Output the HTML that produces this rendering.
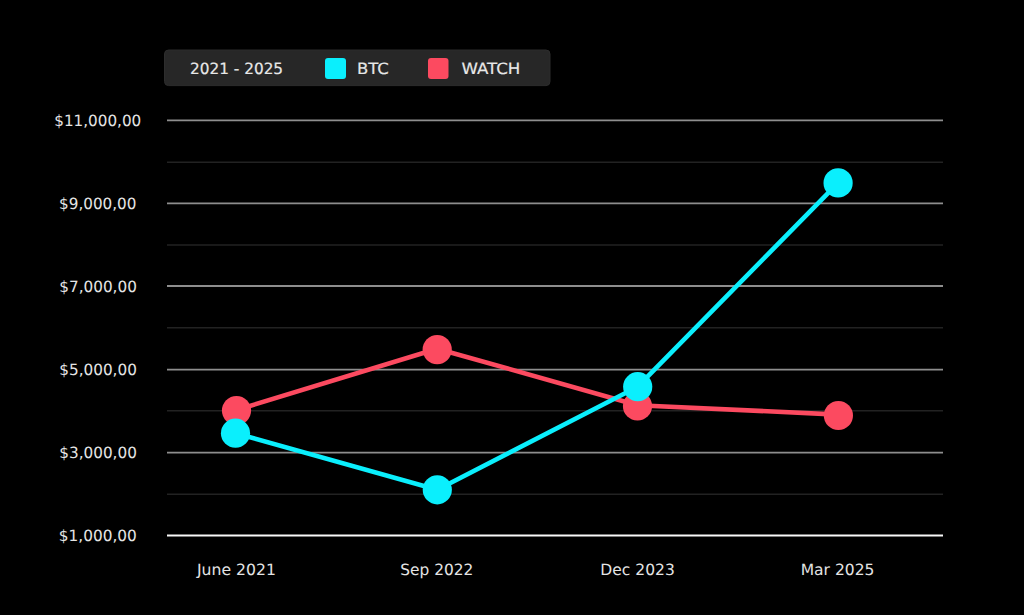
<!DOCTYPE html>
<html>
<head>
<meta charset="utf-8">
<style>
html,body{margin:0;padding:0;background:#000;}
body{width:1024px;height:615px;overflow:hidden;position:relative;}
svg{position:absolute;left:0;top:0;display:block;}
text{text-rendering:geometricPrecision;font-family:"DejaVu Sans",sans-serif;font-size:15.5px;fill:#e8e8e8;stroke:#e8e8e8;stroke-width:0.18px;}
text.ax{font-size:15.5px;stroke-width:0;stroke:none;fill:#e4e4e4;}
</style>
</head>
<body>
<svg width="1024" height="615" viewBox="0 0 1024 615">
  <!-- legend -->
  <rect x="164.5" y="50" width="385.5" height="35.6" rx="4" ry="4" fill="#272727" stroke="#2d2d2d" stroke-width="1"/>
  <text x="190.01" y="74.0" textLength="93.11" lengthAdjust="spacingAndGlyphs">2021 - 2025</text>
  <rect x="325" y="58" width="21" height="21" rx="3" fill="#0aeffd"/>
  <text x="356.94" y="74.0" textLength="31.9" lengthAdjust="spacingAndGlyphs">BTC</text>
  <rect x="428" y="58" width="20.5" height="21" rx="3" fill="#fc4a60"/>
  <text x="461.4" y="74.0" textLength="58.99" lengthAdjust="spacingAndGlyphs">WATCH</text>

  <!-- grid -->
  <g stroke-width="1.8" stroke="#8e8e8e">
    <line x1="167" y1="120.45" x2="943" y2="120.45"/>
    <line x1="167" y1="203.3" x2="943" y2="203.3"/>
    <line x1="167" y1="286.0" x2="943" y2="286.0"/>
    <line x1="167" y1="369.7" x2="943" y2="369.7"/>
    <line x1="167" y1="452.7" x2="943" y2="452.7"/>
  </g>
  <g stroke-width="1.6" stroke="#222222">
    <line x1="167" y1="162.3" x2="943" y2="162.3"/>
    <line x1="167" y1="245.05" x2="943" y2="245.05"/>
    <line x1="167" y1="327.8" x2="943" y2="327.8"/>
    <line x1="167" y1="410.8" x2="943" y2="410.8"/>
    <line x1="167" y1="494.3" x2="943" y2="494.3"/>
  </g>
  <line x1="167" y1="535.45" x2="943" y2="535.45" stroke="#f8f8f8" stroke-width="2"/>

  <!-- y labels -->
  <text class="ax" x="54.22" y="125.8" textLength="87.02" lengthAdjust="spacingAndGlyphs">$11,000,00</text>
  <text class="ax" x="59.12" y="208.8" textLength="77.35" lengthAdjust="spacingAndGlyphs">$9,000,00</text>
  <text class="ax" x="59.22" y="291.8" textLength="77.66" lengthAdjust="spacingAndGlyphs">$7,000,00</text>
  <text class="ax" x="59.22" y="374.8" textLength="77.66" lengthAdjust="spacingAndGlyphs">$5,000,00</text>
  <text class="ax" x="59.22" y="457.8" textLength="77.66" lengthAdjust="spacingAndGlyphs">$3,000,00</text>
  <text class="ax" x="58.81" y="540.8" textLength="78.07" lengthAdjust="spacingAndGlyphs">$1,000,00</text>

  <!-- x labels -->
  <text class="ax" x="197.01" y="575" textLength="78.94" lengthAdjust="spacingAndGlyphs">June 2021</text>
  <text class="ax" x="400.31" y="575" textLength="73.08" lengthAdjust="spacingAndGlyphs">Sep 2022</text>
  <text class="ax" x="600.3" y="575" textLength="74.48" lengthAdjust="spacingAndGlyphs">Dec 2023</text>
  <text class="ax" x="800.7" y="575" textLength="73.73" lengthAdjust="spacingAndGlyphs">Mar 2025</text>

  <!-- WATCH series -->
  <g fill="#fc4a60" stroke="#fc4a60">
    <polyline points="236.5,410 437.2,348.7 637.5,405.2 838.4,414.6" fill="none" stroke-width="4.6" stroke-linejoin="round"/>
    <circle cx="236.5" cy="410.6" r="14.6" stroke="none"/>
    <circle cx="437.2" cy="349.6" r="14.6" stroke="none"/>
    <circle cx="637.5" cy="406" r="14.6" stroke="none"/>
    <circle cx="838.4" cy="415.5" r="14.6" stroke="none"/>
  </g>
  <!-- BTC series -->
  <g fill="#0aeffd" stroke="#0aeffd">
    <polyline points="235.5,433.2 437.3,489.8 637.7,386.7 838.1,182.9" fill="none" stroke-width="4.6" stroke-linejoin="round"/>
    <circle cx="235.5" cy="433.2" r="14.6" stroke="none"/>
    <circle cx="437.3" cy="489.8" r="14.6" stroke="none"/>
    <circle cx="637.7" cy="386.7" r="14.6" stroke="none"/>
    <circle cx="838.1" cy="182.9" r="14.6" stroke="none"/>
  </g>
</svg>
</body>
</html>
